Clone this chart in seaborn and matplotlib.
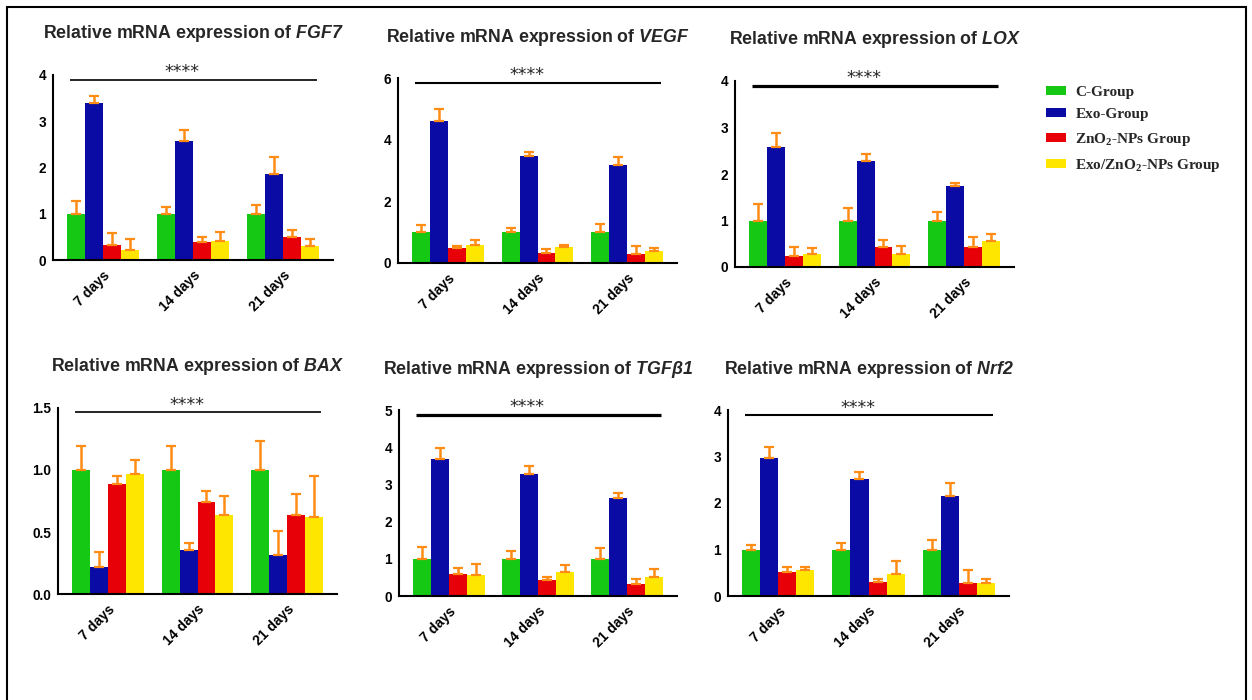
import numpy as np
import pandas as pd
import matplotlib
matplotlib.use("Agg")
import matplotlib.pyplot as plt
import seaborn as sns
from matplotlib.patches import Patch, Rectangle

# ---------------- data ----------------
days = ["7 days", "14 days", "21 days"]
groups = ["C-Group", "Exo-Group", "ZnO$_\\mathbf{2}$-NPs Group", "Exo/ZnO$_\\mathbf{2}$-NPs Group"]
colors = ["#14C814", "#0A0AA5", "#E80008", "#FFE600"]
err_color = "#FF8C14"

# FGF7
fgf7_mean = {"C": [1.0, 1.0, 1.0], "Exo": [3.40, 2.57, 1.86], "Zn": [0.32, 0.39, 0.49], "ExoZn": [0.22, 0.41, 0.31]}
fgf7_sd = {"C": [0.28, 0.14, 0.18], "Exo": [0.15, 0.24, 0.37], "Zn": [0.27, 0.11, 0.15], "ExoZn": [0.24, 0.19, 0.14]}
# VEGF
vegf_mean = {"C": [1.0, 1.0, 1.0], "Exo": [4.60, 3.47, 3.17], "Zn": [0.49, 0.32, 0.30], "ExoZn": [0.57, 0.53, 0.39]}
vegf_sd = {"C": [0.23, 0.12, 0.27], "Exo": [0.38, 0.14, 0.28], "Zn": [0.05, 0.14, 0.24], "ExoZn": [0.16, 0.06, 0.09]}
# LOX
lox_mean = {"C": [1.0, 1.0, 1.0], "Exo": [2.58, 2.29, 1.74], "Zn": [0.24, 0.43, 0.42], "ExoZn": [0.29, 0.29, 0.56]}
lox_sd = {"C": [0.35, 0.26, 0.19], "Exo": [0.31, 0.13, 0.07], "Zn": [0.20, 0.14, 0.22], "ExoZn": [0.11, 0.17, 0.15]}
# BAX
bax_mean = {"C": [1.0, 1.0, 1.0], "Exo": [0.215, 0.355, 0.315], "Zn": [0.89, 0.74, 0.64], "ExoZn": [0.97, 0.64, 0.62]}
bax_sd = {"C": [0.19, 0.19, 0.23], "Exo": [0.125, 0.055, 0.195], "Zn": [0.06, 0.09, 0.17], "ExoZn": [0.11, 0.15, 0.33]}
# TGFb1
tgf_mean = {"C": [1.0, 1.0, 1.0], "Exo": [3.68, 3.27, 2.64], "Zn": [0.59, 0.43, 0.31], "ExoZn": [0.57, 0.65, 0.50]}
tgf_sd = {"C": [0.31, 0.21, 0.29], "Exo": [0.29, 0.22, 0.12], "Zn": [0.16, 0.08, 0.15], "ExoZn": [0.30, 0.17, 0.22]}
# Nrf2
nrf2_mean = {"C": [1.0, 1.0, 1.0], "Exo": [2.97, 2.52, 2.15], "Zn": [0.52, 0.30, 0.27], "ExoZn": [0.56, 0.48, 0.28]}
nrf2_sd = {"C": [0.09, 0.14, 0.20], "Exo": [0.24, 0.15, 0.27], "Zn": [0.10, 0.07, 0.28], "ExoZn": [0.06, 0.27, 0.09]}

keys = ["C", "Exo", "Zn", "ExoZn"]

genes = ["FGF7", "VEGF", "LOX", "BAX", "TGFβ1", "Nrf2"]
means = [fgf7_mean, vegf_mean, lox_mean, bax_mean, tgf_mean, nrf2_mean]
sds = [fgf7_sd, vegf_sd, lox_sd, bax_sd, tgf_sd, nrf2_sd]
yticks = [[0, 1, 2, 3, 4], [0, 2, 4, 6], [0, 1, 2, 3, 4],
          [0.0, 0.5, 1.0, 1.5], [0, 1, 2, 3, 4, 5], [0, 1, 2, 3, 4]]
ytick_labels = [["0", "1", "2", "3", "4"], ["0", "2", "4", "6"], ["0", "1", "2", "3", "4"],
                ["0.0", "0.5", "1.0", "1.5"], ["0", "1", "2", "3", "4", "5"], ["0", "1", "2", "3", "4"]]
sig_y = [3.89, 5.84, 3.89, 1.465, 4.87, 3.885]
sig_label = "****"

# ---------------- style ----------------
sns.set_style("white")
plt.rcParams["font.family"] = ["Liberation Sans", "DejaVu Sans"]
plt.rcParams["mathtext.fontset"] = "custom"
plt.rcParams["mathtext.it"] = "Liberation Sans:italic:bold"
plt.rcParams["mathtext.rm"] = "Liberation Sans:italic:bold"
plt.rcParams["mathtext.bf"] = "Liberation Serif:bold"

W, H = 1252, 700
fig = plt.figure(figsize=(W / 100, H / 100), dpi=100)
fig.patch.set_facecolor("white")

# axes boxes in pixels: left, top, right, bottom
boxes = [(53, 75, 333, 260), (398, 78, 677, 263), (735, 81, 1014, 267),
         (58, 408, 337, 594), (399, 410, 677, 596), (728, 410, 1009, 596)]
sig_lw = [1.2, 1.5, 2.3, 1.2, 2.3, 1.5]

for i, gene in enumerate(genes):
    l, t, r, b = boxes[i]
    ax = fig.add_axes([l / W, 1 - b / H, (r - l) / W, (b - t) / H])
    rows = []
    for k, g in zip(keys, groups):
        for d, v in zip(days, means[i][k]):
            rows.append({"day": d, "group": g, "value": v})
    df = pd.DataFrame(rows)
    sns.barplot(data=df, x="day", y="value", hue="group", order=days, hue_order=groups,
                palette=colors, width=0.8, gap=0, errorbar=None, saturation=1,
                legend=False, ax=ax, linewidth=0)
    for cont, k in zip(ax.containers, keys):
        xs = [p.get_x() + p.get_width() / 2 for p in cont]
        hs = [p.get_height() for p in cont]
        up = sds[i][k]
        ax.errorbar(xs, hs, yerr=[np.zeros(len(up)), up], fmt="none", ecolor=err_color,
                    elinewidth=1.8, capsize=3.3, capthick=1.6, zorder=3)
    ax.set_xlim(-0.56, 2.56)
    ax.set_ylim(yticks[i][0], yticks[i][-1])
    ax.set_yticks(yticks[i])
    ax.set_yticklabels(ytick_labels[i], fontsize=9.8, fontweight="bold")
    ax.set_xticks(range(len(days)))
    ax.set_xticklabels(days, rotation=45, ha="right", rotation_mode="anchor",
                       fontsize=10, fontweight="bold")
    ax.set_xlabel("")
    ax.set_ylabel("")
    for s in ["top", "right"]:
        ax.spines[s].set_visible(False)
    for s in ["left", "bottom"]:
        ax.spines[s].set_linewidth(1.5)
        ax.spines[s].set_color("black")
    ax.tick_params(axis="y", direction="out", length=4, width=1.5, pad=1, colors="black")
    ax.tick_params(axis="x", length=0, pad=6, colors="black")
    ax.set_facecolor("white")
    # significance line and stars
    ax.plot([-0.37, 2.38], [sig_y[i], sig_y[i]], color="black", lw=sig_lw[i],
            clip_on=False, solid_capstyle="butt")
    ax.annotate(sig_label, xy=(0.88, sig_y[i]), xycoords="data", xytext=(0, 5.5),
                textcoords="offset points", ha="center", va="center", fontsize=12.5,
                family="DejaVu Sans", annotation_clip=False)
    # title
    ax.annotate("Relative mRNA expression of $\\mathit{" + gene + "}$", xy=(0.5, 1),
                xycoords="axes fraction", xytext=(0, 41 * 0.72), textcoords="offset points",
                ha="center", va="center", fontsize=12.8, fontweight="bold", annotation_clip=False)

# legend
handles = [Patch(facecolor=c, edgecolor="none") for c in colors]
fig.legend(handles, groups, loc="upper left", bbox_to_anchor=(1038 / W, 1 - 78 / H),
           frameon=False, borderpad=0, handlelength=1.3, handleheight=0.55,
           handletextpad=0.65, labelspacing=0.62,
           prop={"family": "Liberation Serif", "weight": "bold", "size": 11})

# outer frame
fig.add_artist(Rectangle((7 / W, -0.05), (1246 - 7) / W, 1 - 7 / H + 0.05,
                         transform=fig.transFigure, fill=False, lw=1.5, ec="black"))

fig.savefig("out.png", dpi=100, facecolor="white")
